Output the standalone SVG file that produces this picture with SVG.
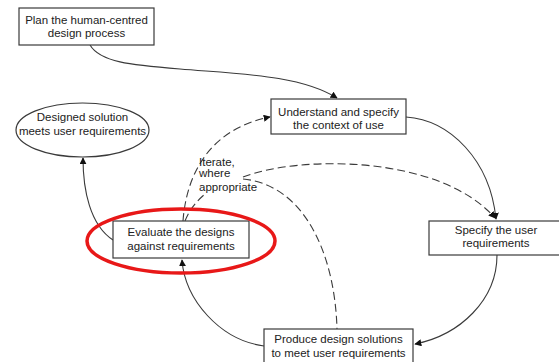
<svg xmlns="http://www.w3.org/2000/svg" width="559" height="362" viewBox="0 0 559 362">
  <style>
    .box { fill: #ffffff; stroke: #3a3a3a; stroke-width: 1.2; }
    .lbl { font-family: "Liberation Sans", Arial, sans-serif; font-size: 11.5px; fill: #222222; text-anchor: middle; }
    .note { font-family: "Liberation Sans", Arial, sans-serif; font-size: 11.5px; fill: #222222; }
    .edge { fill: none; stroke: #3a3a3a; stroke-width: 1.1; }
    .dash { stroke-dasharray: 8 4; }
    .ring { fill: none; stroke: #e81818; stroke-width: 3.5; }
  </style>
  <defs>
    <marker id="arrow" viewBox="0 0 10 10" refX="9" refY="5" markerWidth="7" markerHeight="7" markerUnits="userSpaceOnUse" orient="auto">
      <path d="M0,0 L10,5 L0,10 z" fill="#111111"/>
    </marker>
  </defs>
  <rect width="559" height="362" fill="#ffffff"/>

  <!-- connectors -->
  <g id="connectors">
    <path class="edge" d="M90,45 C100,62 130,65 180,69 C240,74 300,75 337,98" marker-end="url(#arrow)"/>
    <path class="edge" d="M406,117 C450,120 490,160 496,219" marker-end="url(#arrow)"/>
    <path class="edge" d="M497,255 C497,300 460,335 415,344" marker-end="url(#arrow)"/>
    <path class="edge" d="M264,346 C220,340 185,300 182,260" marker-end="url(#arrow)"/>
    <path class="edge" d="M113,240 C90,225 83,190 83,158" marker-end="url(#arrow)"/>
    <path class="edge dash" d="M183,221 C186,180 205,130 270,117" marker-end="url(#arrow)"/>
    <path class="edge dash" d="M185,221 C190,208 198,200 205,194"/>
    <path class="edge dash" d="M243,177 C300,155 440,155 495,218" marker-end="url(#arrow)"/>
    <path class="edge dash" d="M243,179 C305,185 335,255 337,329"/>
    <text class="note" x="199" y="166">Iterate,</text>
    <text class="note" x="199" y="177">where</text>
    <text class="note" x="199" y="191">appropriate</text>
  </g>

  <g id="plan">
    <rect class="box" x="19" y="8" width="135" height="37"/>
    <text class="lbl" x="86.5" y="23.5">Plan the human-centred</text>
    <text class="lbl" x="86.5" y="37">design process</text>
  </g>

  <g id="understand">
    <rect class="box" x="271" y="99" width="135" height="35"/>
    <text class="lbl" x="338.5" y="116">Understand and specify</text>
    <text class="lbl" x="338.5" y="128.5">the context of use</text>
  </g>

  <g id="solution">
    <ellipse class="box" cx="82.5" cy="130" rx="66.5" ry="27"/>
    <text class="lbl" x="82.5" y="121">Designed solution</text>
    <text class="lbl" x="82.5" y="135">meets user requirements</text>
  </g>

  <g id="evaluate">
    <rect class="box" x="113" y="221" width="136" height="37"/>
    <text class="lbl" x="181" y="236">Evaluate the designs</text>
    <text class="lbl" x="181" y="249.5">against requirements</text>
    <ellipse class="ring" cx="181" cy="241" rx="94" ry="32"/>
  </g>

  <g id="specify">
    <rect class="box" x="429" y="221" width="135" height="34"/>
    <text class="lbl" x="496" y="234">Specify the user</text>
    <text class="lbl" x="496" y="247">requirements</text>
  </g>

  <g id="produce">
    <rect class="box" x="264" y="329" width="149" height="40"/>
    <text class="lbl" x="338.5" y="343">Produce design solutions</text>
    <text class="lbl" x="338.5" y="356.5">to meet user requirements</text>
  </g>
</svg>
